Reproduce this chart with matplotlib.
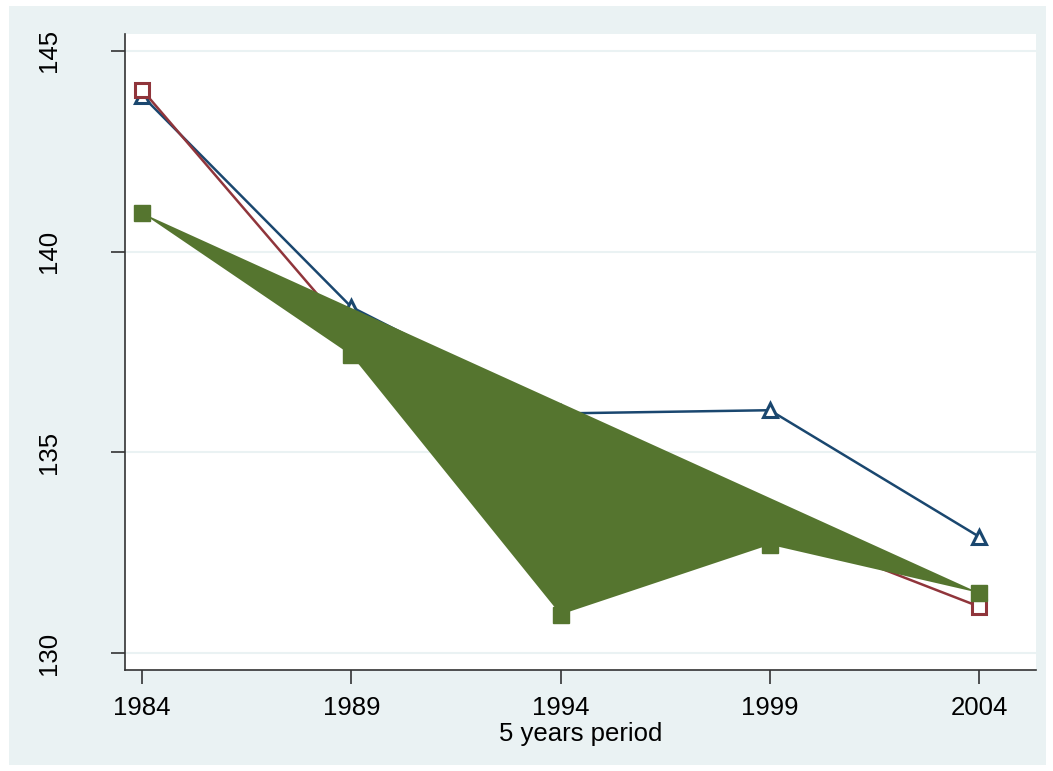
import matplotlib
matplotlib.use("Agg")
import matplotlib.pyplot as plt
from matplotlib.patches import Rectangle

years = [1984, 1989, 1994, 1999, 2004]
blue_vals = [143.88, 138.62, 135.97, 136.05, 132.9]
red_vals = [144.03, 137.95, 133.5, 133.18, 131.16]
green_vals = [140.96, 137.42, 130.96, 132.7, 131.5]
yticks = [130, 135, 140, 145]
xlabel = "5 years period"

BG = "#eaf2f3"
BLUE = "#1a476f"
RED = "#90353b"
GREEN = "#55752f"

plt.rcParams["font.family"] = ["Liberation Sans", "DejaVu Sans"]

fig = plt.figure(figsize=(10.53, 7.71), dpi=100)
fig.patch.set_facecolor("white")
fig.add_artist(Rectangle((9/1053, 6/771), (1046-9)/1053, (765-6)/771,
                         transform=fig.transFigure, facecolor=BG, edgecolor="none", zorder=-10))
ax = fig.add_axes([125/1053, 1-670/771, (1036-125)/1053, (670-34)/771])
ax.set_facecolor("white")

ax.set_xlim(1983.59, 2005.36)
ax.set_ylim(129.58, 145.42)

for y in yticks:
    ax.axhline(y, color=BG, lw=1.5, zorder=0)

ax.plot(years, blue_vals, color=BLUE, lw=1.8, marker="^", ms=10, mfc="white",
        mec=BLUE, mew=2.2, zorder=2)
ax.plot(years, red_vals, color=RED, lw=1.8, marker="s", ms=10, mfc="white",
        mec=RED, mew=2.2, zorder=2)
ax.fill(years, green_vals, color=GREEN, lw=0, zorder=3)
ax.plot(years, green_vals, color=GREEN, lw=1.5, ls="none", marker="s", ms=11,
        mfc=GREEN, mec=GREEN, zorder=4)

ax.set_xticks(years)
ax.set_xticklabels([str(y) for y in years], fontsize=18.5)
ax.set_yticks(yticks)
ax.set_yticklabels([str(y) for y in yticks], fontsize=18.5, rotation=90, va="center")
ax.tick_params(axis="both", direction="out", length=10, width=1.2, color="#333333")
ax.tick_params(axis="x", pad=9)
ax.tick_params(axis="y", pad=36)
ax.set_xlabel(xlabel, fontsize=18.5, labelpad=1)

for s in ["top", "right"]:
    ax.spines[s].set_visible(False)
for s in ["left", "bottom"]:
    ax.spines[s].set_color("#333333")
    ax.spines[s].set_linewidth(1.2)

fig.savefig("out.png", dpi=100)
